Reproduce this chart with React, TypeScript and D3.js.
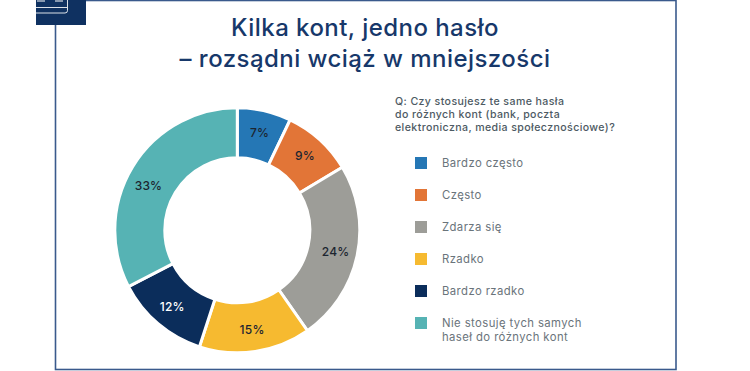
import React from "react";
import * as d3 from "d3";

const categories = ["Bardzo często", "Często", "Zdarza się", "Rzadko", "Bardzo rzadko", "Nie stosuję tych samych|haseł do różnych kont"];
const values = [7.1, 9.3, 23.9, 14.7, 12.4, 32.6];
const valueLabels = ["7%", "9%", "24%", "15%", "12%", "33%"];
const colors = ["#2577b5", "#e27537", "#9d9d98", "#f6ba30", "#0b2d5b", "#56b3b4"];
const labelColors = ["#1c2530", "#1c2530", "#1c2530", "#1c2530", "#ffffff", "#1c2530"];
const titleLines = ["Kilka kont, jedno hasło", "– rozsądni wciąż w mniejszości"];
const questionLines = ["Q: Czy stosujesz te same hasła", "do różnych kont (bank, poczta", "elektroniczna, media społecznościowe)?"];

const FONT = "Inter, 'Open Sans', sans-serif";
const NAVY = "#3a5a8c";

export default function App() {
  const cx = 237.3, cy = 230.3;
  const pie = d3.pie<number>().value((d) => d).sort(null)(values);
  const arc = d3.arc<d3.PieArcDatum<number>>().innerRadius(72.5).outerRadius(122.5);
  const labelArc = d3.arc<d3.PieArcDatum<number>>().innerRadius(100.5).outerRadius(100.5);
  const legendY = 163;
  return (
    <svg width={750} height={371} style={{ position: "fixed", left: 0, top: 0, display: "block", background: "#fff" }} fontFamily={FONT}>
      <rect x={55.5} y={0.5} width={620.5} height={369} fill="none" stroke={NAVY} strokeWidth={1.6} />
      <rect x={36} y={0} width={50} height={25} fill="#0f3161" />
      <path d="M36 13 H65 Q67.500 13 67.500 10.500 V0 M36 7.500 H67" fill="none" stroke="#fff" strokeWidth={1} opacity={0.85} />
      <path d="M37 1 H45 M55 1 H63" stroke="#fff" strokeWidth={1.2} />
      <g fontSize={24} fontWeight={500} fill="#17386a" textAnchor="middle" letterSpacing={0.45}>
        {titleLines.map((t, i) => (
          <text key={t} x={365} y={36 + i * 30.5}>{t}</text>
        ))}
      </g>
      <g fontSize={10.6} fontWeight={500} fill="#4d5a63" letterSpacing={0.4}>
        {questionLines.map((t, i) => (
          <text key={t} x={395} y={104.5 + i * 13}>{t}</text>
        ))}
      </g>
      <g transform={`translate(${cx},${cy})`}>
        {pie.map((d, i) => (
          <path key={i} d={arc(d) ?? ""} fill={colors[i]} stroke="#fff" strokeWidth={3} />
        ))}
        {pie.map((d, i) => {
          const [x, y] = labelArc.centroid(d);
          const isLast = i === values.length - 1;
          return (
            <text key={i} x={x + (isLast ? -3 : 0)} y={y + (isLast ? 8 : 0)} dy="0.36em" textAnchor="middle" fontSize={12} fontWeight={500} fill={labelColors[i]} letterSpacing={0.2}>
              {valueLabels[i]}
            </text>
          );
        })}
      </g>
      {categories.map((c, i) => {
        const lines = c.split("|");
        const y = legendY + i * 32;
        return (
          <g key={c}>
            <rect x={415} y={y - 6} width={12} height={12} fill={colors[i]} />
            {lines.map((l, j) => (
              <text key={l} x={442} y={y + 4 + j * 14} fontSize={11.3} fill="#6a747b" letterSpacing={0.42}>{l}</text>
            ))}
          </g>
        );
      })}
    </svg>
  );
}
